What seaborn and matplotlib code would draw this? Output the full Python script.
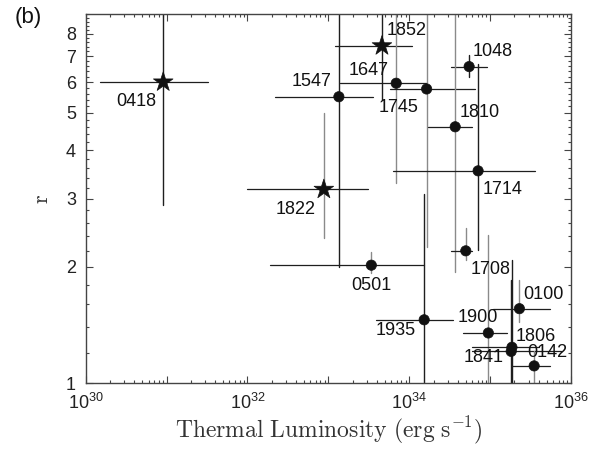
import numpy as np
import pandas as pd
import seaborn as sns
import matplotlib
matplotlib.use('Agg')
import matplotlib.pyplot as plt
from matplotlib.ticker import LogLocator, FixedLocator, NullFormatter, FuncFormatter

# sources (short names), star = marker type used in the figure
names = ['0418', '1822', '1852', '1547', '1647', '1745', '1048', '1810', '1714',
         '1708', '0501', '1935', '1900', '0100', '1806', '1841', '0142']
kind = ['star', 'star', 'star', 'dot', 'dot', 'dot', 'dot', 'dot', 'dot',
        'dot', 'dot', 'dot', 'dot', 'dot', 'dot', 'dot', 'dot']

# thermal luminosity (erg/s) and its range
lum = [9.1e30, 8.8e32, 4.6e33, 1.35e33, 6.9e33, 1.64e34, 5.5e34, 3.7e34, 7.1e34,
       5.0e34, 3.4e33, 1.53e34, 9.5e34, 2.3e35, 1.86e35, 1.82e35, 3.5e35]
lum_lo = [1.5e30, 1.0e32, 1.2e33, 2.2e32, 1.38e33, 5.8e33, 3.3e34, 1.72e34, 6.3e33,
          3.3e34, 1.9e32, 3.9e33, 4.6e34, 1.1e35, 5.9e34, 5.9e34, 1.86e35]
lum_hi = [3.3e31, 3.1e33, 1.07e34, 3.6e33, 1.66e34, 6.5e34, 9.1e34, 5.9e34, 3.6e35,
          5.9e34, 1.53e34, 3.5e34, 1.6e35, 5.5e35, 4.0e35, 7.6e35, 5.5e35]

# r and its range (values past the frame just run off the plot)
r_val = [6.0, 3.17, 7.44, 5.50, 5.96, 5.76, 6.58, 4.60, 3.54,
         2.20, 2.02, 1.46, 1.35, 1.56, 1.24, 1.21, 1.11]
r_lo = [2.89, 2.37, 5.40, 2.0, 3.29, 2.25, 6.20, 1.94, 2.21,
        2.08, 1.93, 0.9, 0.9, 1.44, 0.9, 0.9, 0.9]
r_hi = [12, 4.99, 12, 12, 12, 12, 7.05, 12, 6.68,
        2.52, 2.18, 3.08, 2.42, 1.85, 2.08, 1.85, 1.21]

# label placement in pixels relative to the point
label_off = {'0418': (-27, -19), '1822': (-28, -20), '1852': (25, 15), '1547': (-27, 15),
             '1647': (-28, 13), '1745': (-28, -19), '1048': (24, 15), '1810': (24, 14),
             '1714': (24, -19), '1708': (25, -19), '0501': (0, -20), '1935': (-28, -11),
             '1900': (-11, 15), '0100': (24, 14), '1806': (24, 11), '1841': (-28, -6),
             '0142': (13, 13)}
gray_v = {'1822', '1647', '1745', '1810', '1708', '1900', '0100', '0501', '0142'}

df = pd.DataFrame({'name': names, 'kind': kind, 'L': lum, 'r': r_val})

sns.set_theme(style='ticks')
plt.rcParams['font.family'] = ['Liberation Sans', 'DejaVu Sans']
plt.rcParams['mathtext.fontset'] = 'custom'
plt.rcParams['mathtext.rm'] = 'Liberation Sans'

fig = plt.figure(figsize=(6.03, 4.49), dpi=100)
ax = fig.add_axes([0.142, 0.146, 0.805, 0.823])
ax.set_xscale('log')
ax.set_yscale('log')

dark = '#1e1e1e'
gray = '#8a8a8a'
for i, n in enumerate(names):
    ax.plot([lum_lo[i], lum_hi[i]], [r_val[i], r_val[i]], color=dark, lw=0.9, zorder=2)
    ax.plot([lum[i], lum[i]], [r_lo[i], r_hi[i]], color=gray if n in gray_v else dark,
            lw=1.0, zorder=2)

sns.scatterplot(data=df, x='L', y='r', style='kind', size='kind',
                markers={'star': '*', 'dot': 'o'}, sizes={'star': 220, 'dot': 55},
                color='#111111', edgecolor='#111111', linewidth=0.5,
                legend=False, ax=ax, zorder=3)

for i, n in enumerate(names):
    dx, dy = label_off[n]
    ax.annotate(n, (lum[i], r_val[i]), xytext=(dx, dy), textcoords='offset pixels',
                ha='center', va='center', fontsize=13, color='#111111')

ax.set_xlim(1e30, 1e36)
ax.set_ylim(1, 9)

ax.xaxis.set_major_locator(FixedLocator([10.0 ** k for k in range(30, 37)]))
ax.xaxis.set_major_formatter(FuncFormatter(
    lambda v, p: r'$\mathregular{10^{%d}}$' % round(np.log10(v)) if round(np.log10(v)) % 2 == 0 else ''))
ax.xaxis.set_minor_locator(LogLocator(base=10, subs=np.arange(2, 10), numticks=100))
ax.xaxis.set_minor_formatter(NullFormatter())

ax.yaxis.set_major_locator(FixedLocator([1, 2, 3, 4, 5, 6, 7, 8]))
ax.yaxis.set_major_formatter(FuncFormatter(lambda v, p: '%g' % v))
ax.yaxis.set_minor_locator(FixedLocator(np.arange(1, 9.01, 0.2)))
ax.yaxis.set_minor_formatter(NullFormatter())

ax.tick_params(which='both', direction='in', top=True, right=True, colors='#444444',
               labelcolor='#222222', labelsize=13, width=0.8)
ax.tick_params(which='major', length=5, pad=7)
ax.tick_params(which='minor', length=2.5)
for s in ax.spines.values():
    s.set_color('#444444')
    s.set_linewidth(1.0)

ax.set_xlabel(r'$\mathrm{Thermal\ Luminosity\ (erg\ s^{-1})}$', fontsize=17,
              color='#333333', math_fontfamily='cm', labelpad=1)
ax.set_ylabel(r'$\mathrm{r}$', fontsize=16, color='#333333', math_fontfamily='cm',
              labelpad=9)
fig.text(0.047, 0.962, '(b)', fontsize=16, ha='center', va='center', color='#111111')

fig.savefig('out.png', dpi=100)
